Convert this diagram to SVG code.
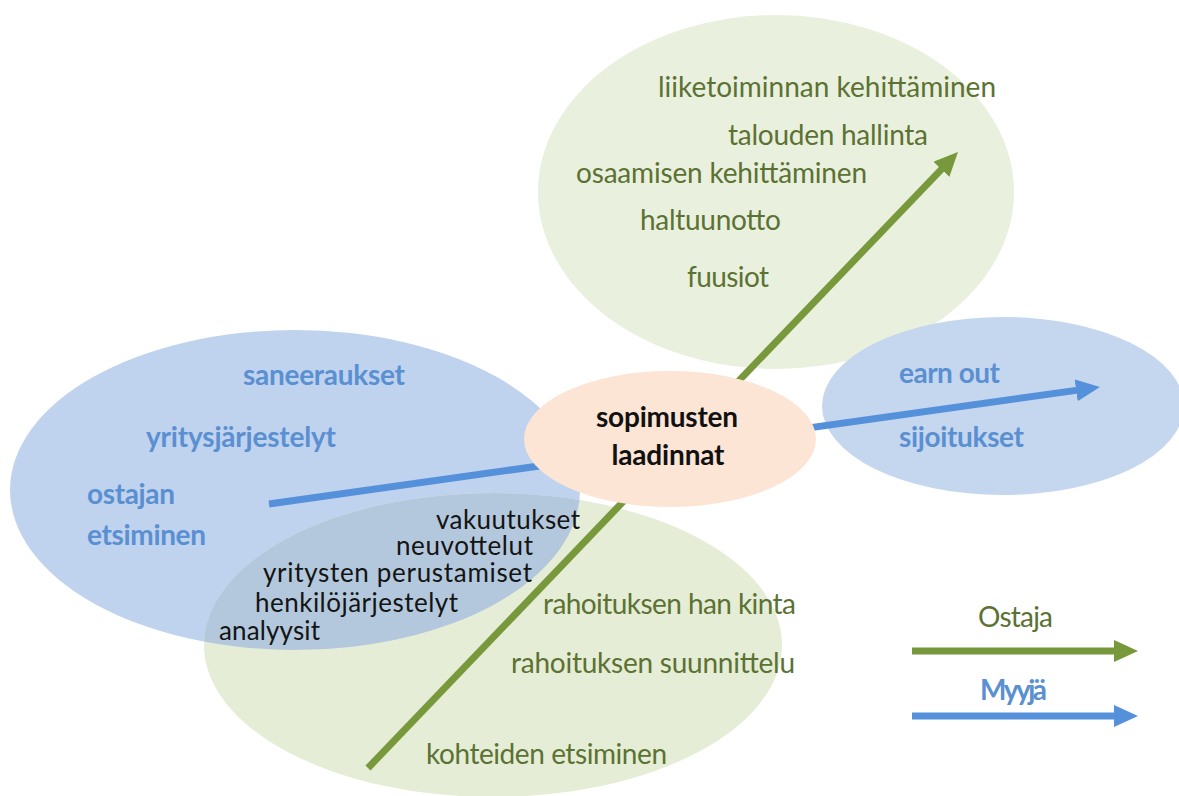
<svg xmlns="http://www.w3.org/2000/svg" width="1179" height="796" viewBox="0 0 1179 796">
<style>
text{font-family:"Lato","Carlito","Liberation Sans",sans-serif;font-size:28px}
.g{fill:#5b7233}
.b{fill:#5a8fd2;font-weight:bold}
.k{fill:#141414;font-size:26px}
.c{fill:#111;font-weight:bold}
.lg{stroke:#77983b;stroke-width:7;fill:none}
.lb{stroke:#5590da;stroke-width:7;fill:none}
</style>
<defs>
<marker id="ag" markerUnits="userSpaceOnUse" markerWidth="24" markerHeight="22" refX="9" refY="11" orient="auto"><path d="M0,0 L24,11 L0,22 z" fill="#77983b"/></marker>
<marker id="ab" markerUnits="userSpaceOnUse" markerWidth="24" markerHeight="22" refX="9" refY="11" orient="auto"><path d="M0,0 L24,11 L0,22 z" fill="#5590da"/></marker>
<clipPath id="clipBlue"><ellipse cx="295" cy="490" rx="285" ry="160"/></clipPath>
</defs>
<rect width="1179" height="796" fill="#ffffff"/>
<g id="ellipse-left"><ellipse cx="295" cy="490" rx="285" ry="160" fill="#bfd3ee"/></g>
<g id="ellipse-bottom"><ellipse cx="493" cy="645" rx="289" ry="152" fill="#e5edd6"/>
<ellipse cx="493" cy="645" rx="289" ry="152" fill="#b3c8dc" clip-path="url(#clipBlue)"/></g>
<g id="ellipse-top"><ellipse cx="776" cy="192" rx="238" ry="177" fill="#eaf0de"/></g>
<g id="ellipse-right"><ellipse cx="1003" cy="406" rx="181" ry="89" fill="#c5d7ef"/></g>
<g id="connectors">
<line class="lg" x1="368" y1="768" x2="947.6" y2="162.8" marker-end="url(#ag)"/>
<line class="lb" x1="269" y1="504" x2="1085.1" y2="389.1" marker-end="url(#ab)"/>
<line class="lg" x1="912" y1="651" x2="1123" y2="651" marker-end="url(#ag)"/>
<line class="lb" x1="912" y1="716" x2="1123" y2="716" marker-end="url(#ab)"/>
</g>
<g id="center"><ellipse cx="670" cy="439" rx="146" ry="68" fill="#fde5d5"/>
<text class="c" x="667" y="427" text-anchor="middle" textLength="142">sopimusten</text>
<text class="c" x="668" y="465" text-anchor="middle" textLength="113">laadinnat</text></g>
<g id="top-texts">
<text class="g" x="658" y="97" textLength="338">liiketoiminnan kehittäminen</text>
<text class="g" x="728" y="145" textLength="200">talouden hallinta</text>
<text class="g" x="576" y="183" textLength="291">osaamisen kehittäminen</text>
<text class="g" x="640" y="230" textLength="141">haltuunotto</text>
<text class="g" x="687" y="287" textLength="82">fuusiot</text>
</g>
<g id="left-texts">
<text class="b" x="243" y="385" textLength="162">saneeraukset</text>
<text class="b" x="146" y="447" textLength="190">yritysjärjestelyt</text>
<text class="b" x="87" y="504" textLength="88">ostajan</text>
<text class="b" x="87" y="545" textLength="119">etsiminen</text>
</g>
<g id="overlap-texts">
<text class="k" x="436" y="529" textLength="144">vakuutukset</text>
<text class="k" x="396" y="555" textLength="137">neuvottelut</text>
<text class="k" x="263" y="582" textLength="269">yritysten perustamiset</text>
<text class="k" x="255" y="612" textLength="203">henkilöjärjestelyt</text>
<text class="k" x="219" y="640" textLength="101">analyysit</text>
</g>
<g id="bottom-texts">
<text class="g" x="543" y="614" textLength="253">rahoituksen han kinta</text>
<text class="g" x="511" y="673" textLength="284">rahoituksen suunnittelu</text>
<text class="g" x="426" y="764" textLength="241">kohteiden etsiminen</text>
</g>
<g id="right-texts">
<text class="b" x="899" y="383" textLength="101">earn out</text>
<text class="b" x="899" y="447" textLength="125">sijoitukset</text>
</g>
<g id="legend">
<text class="g" x="978" y="627" textLength="75">Ostaja</text>
<text class="b" x="980" y="700" textLength="67">Myyjä</text>
</g>
</svg>
